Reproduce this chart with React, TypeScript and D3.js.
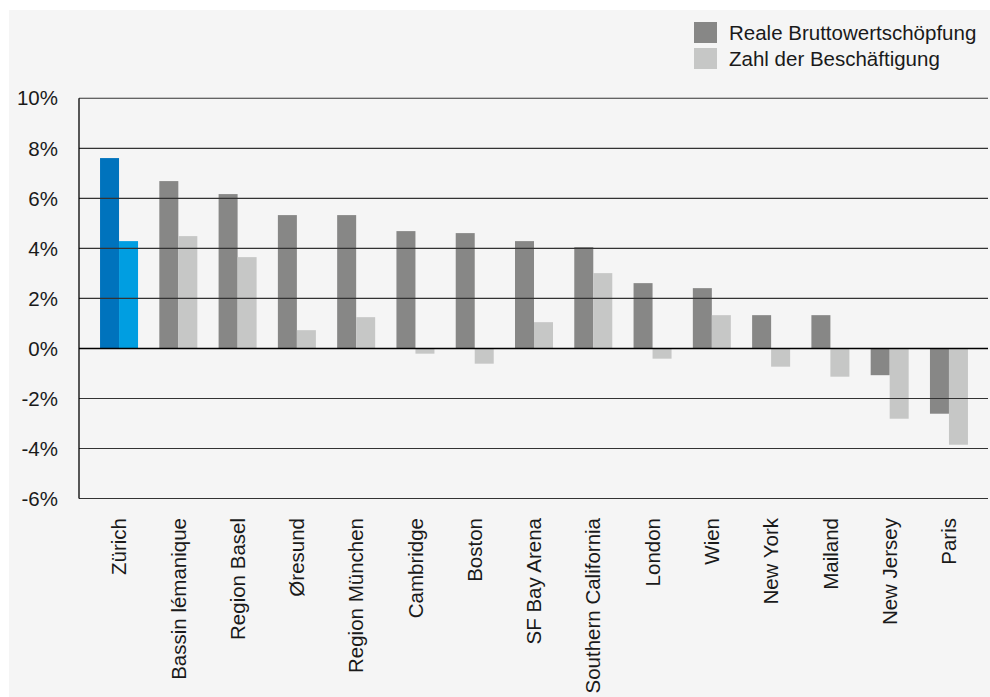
import React from "react";
import * as d3 from "d3";

const categories = [
  "Zürich", "Bassin lémanique", "Region Basel", "Øresund", "Region München",
  "Cambridge", "Boston", "SF Bay Arena", "Southern California", "London",
  "Wien", "New York", "Mailand", "New Jersey", "Paris",
];
const bruttowertschoepfung = [7.61, 6.69, 6.17, 5.33, 5.33, 4.69, 4.61, 4.29, 4.05, 2.61, 2.41, 1.33, 1.33, -1.07, -2.61];
const beschaeftigung = [4.29, 4.49, 3.65, 0.73, 1.25, -0.21, -0.61, 1.05, 3.01, -0.41, 1.33, -0.73, -1.13, -2.81, -3.85];
const yTicks = [10, 8, 6, 4, 2, 0, -2, -4, -6];
const seriesNames = ["Reale Bruttowertschöpfung", "Zahl der Beschäftigung"];

const W = 990;
const H = 697;
const FONT = "'Liberation Sans', Arial, Helvetica, sans-serif";
const DARK = "#878786";
const LIGHT = "#c6c7c6";
const HL_DARK = "#0073bd";
const HL_LIGHT = "#009ee1";

export default function App() {
  const x0 = 79;
  const x1 = 988;
  const x = d3.scaleBand<string>().domain(categories).range([89.4, 978.6]).paddingInner(0).paddingOuter(0);
  const y = d3.scaleLinear().domain([-6, 10]).range([498.5, 98.3]);
  const barW = 19;

  return (
    <svg width={W} height={H} style={{ position: "absolute", left: 0, top: 0, display: "block" }} fontFamily={FONT}>
      <rect x={9} y={10} width={W - 9} height={H - 10} fill="#f5f5f5" />
      {/* bars */}
      {categories.map((c, i) => {
        const cx = (x(c) ?? 0) + x.bandwidth() / 2;
        const v1 = bruttowertschoepfung[i];
        const v2 = beschaeftigung[i];
        const hl = i === 0;
        return (
          <g key={c}>
            <rect x={cx - barW} y={y(Math.max(0, v1))} width={barW} height={Math.abs(y(v1) - y(0))} fill={hl ? HL_DARK : DARK} />
            <rect x={cx} y={y(Math.max(0, v2))} width={barW} height={Math.abs(y(v2) - y(0))} fill={hl ? HL_LIGHT : LIGHT} />
          </g>
        );
      })}
      {/* gridlines */}
      {yTicks.map((t) => (
        <g key={t}>
          <line x1={x0} x2={x1} y1={y(t)} y2={y(t)} stroke={t === 0 ? "#000" : "#333"} strokeWidth={t === 0 ? 1.6 : 1.1} />
          <text x={58} y={y(t)} dy="0.35em" textAnchor="end" fontSize={20.5} fill="#1a1a1a">
            {t}%
          </text>
        </g>
      ))}
      <line x1={x0} x2={x0} y1={y(10)} y2={y(-6)} stroke="#000" strokeWidth={1.3} />
      {/* category labels */}
      {categories.map((c) => {
        const cx = (x(c) ?? 0) + x.bandwidth() / 2;
        return (
          <text key={c} transform={`translate(${cx},518) rotate(-90)`} textAnchor="end" dy="0.35em" fontSize={20.5} fill="#1a1a1a">
            {c}
          </text>
        );
      })}
      {/* legend */}
      {seriesNames.map((s, i) => (
        <g key={s} transform={`translate(694,${22 + i * 26})`}>
          <rect x={0} y={0} width={23} height={21} fill={i === 0 ? DARK : LIGHT} />
          <text x={35} y={10.5} dy="0.35em" fontSize={20.5} fill="#1a1a1a">
            {s}
          </text>
        </g>
      ))}
    </svg>
  );
}
